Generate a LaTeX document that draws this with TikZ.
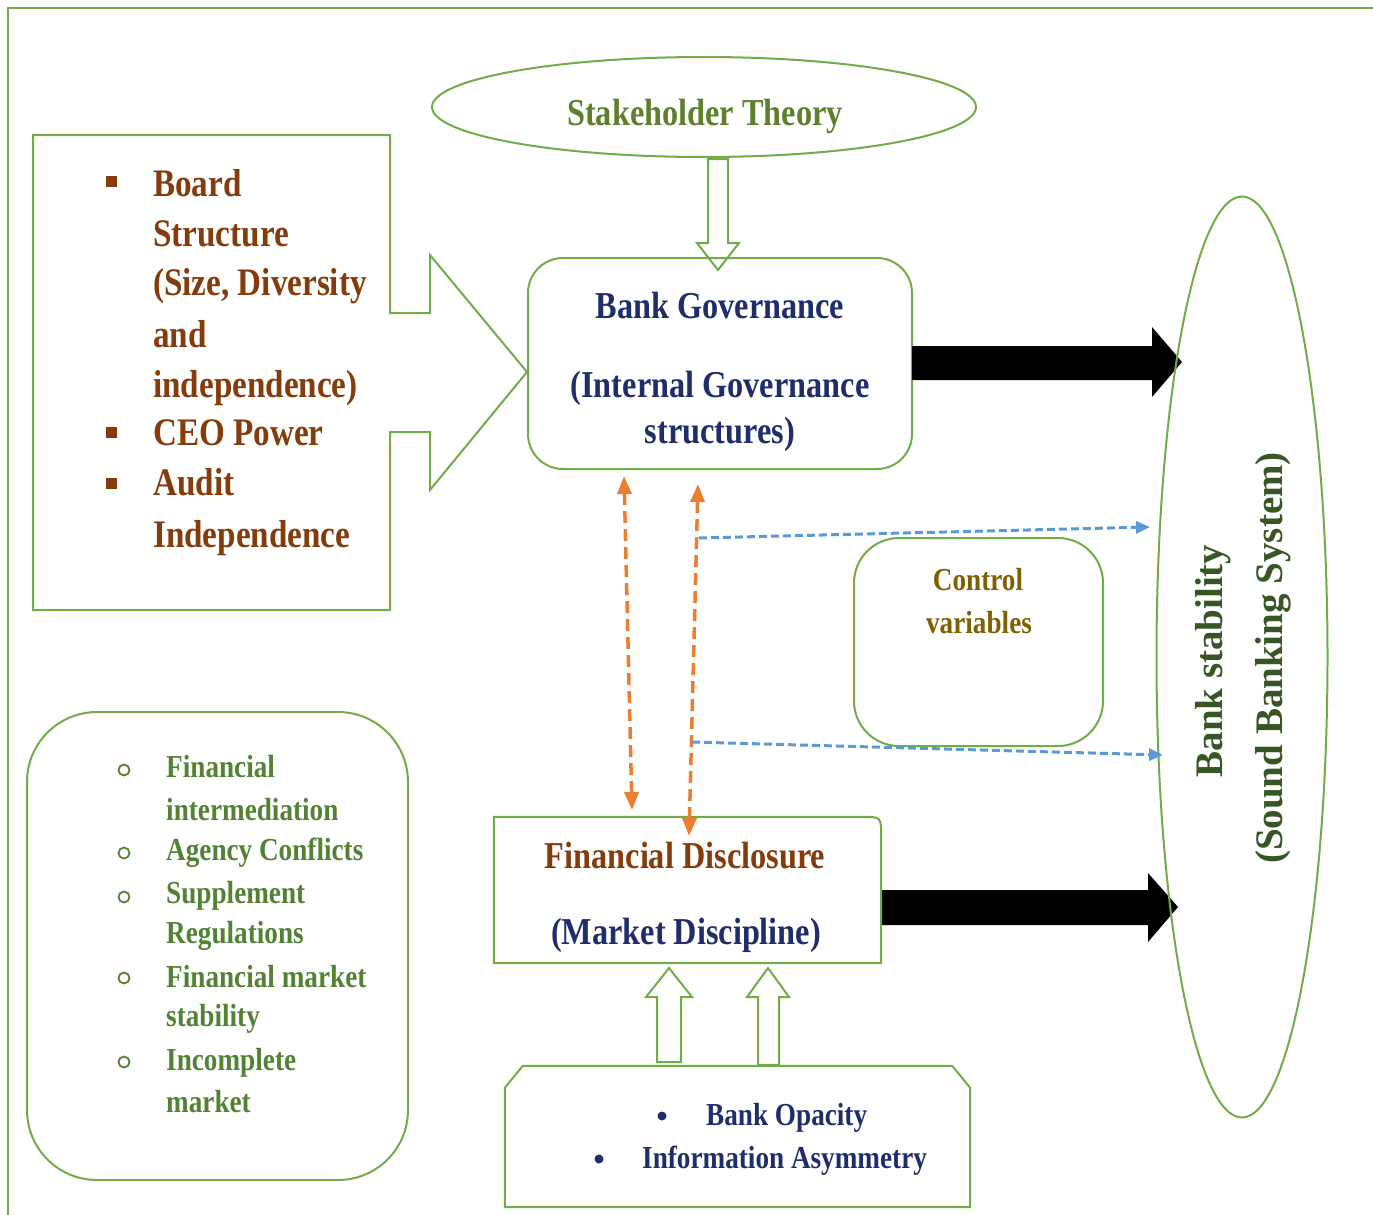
\documentclass[tikz,border=0pt]{standalone}
\usepackage{fontspec}
\usetikzlibrary{shapes.geometric,arrows.meta,calc}
\newfontfamily\cf{Liberation Serif Bold}[FakeStretch=0.85]
\newfontfamily\nf{Liberation Serif Bold}
\definecolor{gline}{HTML}{70AD47}
\definecolor{brownt}{HTML}{843C0C}
\definecolor{navyt}{HTML}{1F2D6B}
\definecolor{greent}{HTML}{548235}
\definecolor{stkt}{HTML}{5E7F2B}
\definecolor{goldt}{HTML}{7F6000}
\definecolor{dgreent}{HTML}{375623}
\definecolor{orng}{HTML}{ED7D31}
\definecolor{blu}{HTML}{5B9BD5}
\begin{document}
\begin{tikzpicture}[x=1pt,y=-1pt,
  gl/.style={draw=gline, line width=2pt},
  txt/.style={inner sep=0pt, anchor=base},
  bigtxt/.style={txt, font=\cf\fontsize{38}{38}\selectfont},
  tltxt/.style={txt, anchor=base west, font=\cf\fontsize{39}{39}\selectfont, text=brownt},
  lbtxt/.style={txt, anchor=base west, font=\cf\fontsize{32}{32}\selectfont, text=greent},
  ibtxt/.style={txt, anchor=base west, font=\cf\fontsize{32}{32}\selectfont, text=navyt},
  cvtxt/.style={txt, font=\cf\fontsize{32}{32}\selectfont, text=goldt},
  bstxt/.style={inner sep=0pt, rotate=90, font=\nf\fontsize{39}{39}\selectfont, text=dgreent},
  odash/.style={draw=orng, line width=3.5pt, dash pattern=on 12pt off 6pt,
     {Triangle[length=18pt,width=14pt]}-{Triangle[length=18pt,width=14pt]}},
  bdash/.style={draw=blu, line width=3pt, dash pattern=on 8pt off 4pt,
     -{Triangle[length=14pt,width=12pt]}}
]
\useasboundingbox (0,0) rectangle (1373,1215);
% outer frame
\draw[gline, line width=2pt] (8,1215) -- (8,8) -- (1373,8);

% Stakeholder theory
\node[ellipse, gl, minimum width=544pt, minimum height=100pt, inner sep=0pt] (st) at (704,107) {};
\node[bigtxt, text=stkt] (stt) at (705,125) {Stakeholder Theory};
\draw[gl, line join=miter] (708,159) -- (728,159) -- (728,243) -- (739,243) -- (718,270) -- (697,243) -- (708,243) -- cycle;

% Bank governance
\node[gl, rounded corners=35pt, minimum width=384pt, minimum height=211pt, inner sep=0pt] (bg) at (720,363.5) {};
\node[bigtxt, text=navyt] (bg1) at (720,318) {Bank Governance};
\node[bigtxt, text=navyt] (bg2) at (720,397) {(Internal Governance};
\node[bigtxt, text=navyt] (bg3) at (720,443) {structures)};

% top-left callout
\draw[gl, line join=miter] (33,135) -- (390,135) -- (390,313) -- (430,313) -- (430,255) -- (527,372)
  -- (430,490) -- (430,432) -- (390,432) -- (390,610) -- (33,610) -- cycle;
\foreach \t/\y [count=\i] in {Board/196, Structure/246, {(Size, Diversity}/295, and/347,
   independence)/397, CEO Power/445, Audit/495, Independence/547}
  \node[tltxt] (tl\i) at (153,\y) {\t};
\foreach \y in {181,432,483}
  \fill[brownt] (105.5,\y-5.5) rectangle (116.5,\y+5.5);

% thick black arrows
\fill[black] (912,346) -- (1152,346) -- (1152,327) -- (1182,362) -- (1152,397) -- (1152,380) -- (912,380) -- cycle;
\fill[black] (881,890) -- (1148,890) -- (1148,873) -- (1178,907) -- (1148,942) -- (1148,925) -- (881,925) -- cycle;

% Financial disclosure
\node[minimum width=387pt, minimum height=146pt, inner sep=0pt] (fd) at (687.5,890) {};
\draw[gl] (fd.south west) -- (fd.north west) -- ($(fd.north east)+(-20,0)$)
  .. controls (fd.north east) .. ($(fd.north east)+(0,20)$) -- (fd.south east) -- cycle;
\node[bigtxt, text=brownt] (fd1) at (685,868) {Financial Disclosure};
\node[bigtxt, text=navyt] (fd2) at (686,944) {(Market Discipline)};

% hollow up arrows
\draw[gl, line join=miter] (657,1062) -- (657,997) -- (646,997) -- (669,968) -- (692,997) -- (681,997) -- (681,1062) -- cycle;
\draw[gl, line join=miter] (758,1065) -- (758,997) -- (747,997) -- (768,968) -- (789,997) -- (779,997) -- (779,1065) -- cycle;

% bottom box
\node[minimum width=465pt, minimum height=141pt, inner sep=0pt] (ib) at (737.5,1136.5) {};
\draw[gl] ($(ib.north west)+(0,22)$) -- ($(ib.north west)+(18,0)$) -- ($(ib.north east)+(-18,0)$)
  -- ($(ib.north east)+(0,22)$) -- (ib.south east) -- (ib.south west) -- cycle;
\node[ibtxt] (ib1) at (706,1125) {Bank Opacity};
\node[ibtxt] (ib2) at (642,1168) {Information Asymmetry};
\fill[navyt] (662,1116) circle[radius=4.5pt];
\fill[navyt] (599,1159) circle[radius=4.5pt];

% left bottom box
\node[gl, rounded corners=70pt, minimum width=381pt, minimum height=468pt, inner sep=0pt] (lb) at (217.5,946) {};
\foreach \t/\y [count=\i] in {Financial/777, intermediation/820, Agency Conflicts/860, Supplement/903,
   Regulations/943, Financial market/987, stability/1026, Incomplete/1070, market/1112}
  \node[lbtxt] (lb\i) at (166,\y) {\t};
\foreach \y in {770,853,897,978,1062}
  \draw[greent, line width=1.8pt] (124,\y) circle[radius=5.5pt];

% control variables
\node[gl, rounded corners=45pt, minimum width=249pt, minimum height=208pt, inner sep=0pt] (cv) at (978.5,642) {};
\node[cvtxt] (cv1) at (978,590) {Control};
\node[cvtxt] (cv2) at (979,633) {variables};

% bank stability
\node[ellipse, gl, minimum width=171pt, minimum height=921pt, inner sep=0pt] (bs) at (1242,657) {};
\node[bstxt] (bs1) at (1213,661) {Bank stability};
\node[bstxt] (bs2) at (1273,658) {(Sound Banking System)};

% dashed connectors
\coordinate (o1a) at (624,476);
\coordinate (o1b) at (632,810);
\coordinate (o2a) at (698,484);
\coordinate (o2b) at (689,836);
\draw[odash] (o1a) -- (o1b);
\draw[odash] (o2a) -- (o2b);
\coordinate (b1a) at (699,538);
\coordinate (b1b) at (1150,527);
\coordinate (b2a) at (692,742);
\coordinate (b2b) at (1163,755);
\draw[bdash] (b1a) -- (b1b);
\draw[bdash] (b2a) -- (b2b);
\end{tikzpicture}
\end{document}
